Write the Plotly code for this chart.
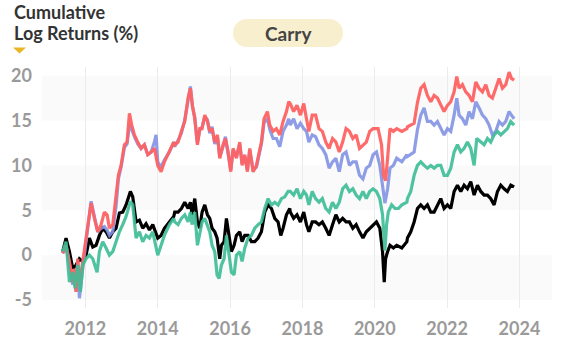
import plotly.graph_objects as go

# ---------------- data (decimal years, cumulative log returns %) ----------------
red_x = [2011.373, 2011.465, 2011.558, 2011.650, 2011.696, 2011.742, 2011.788, 2011.834, 2011.926, 2012.018,
         2012.111, 2012.157, 2012.249, 2012.341, 2012.433, 2012.525, 2012.599, 2012.664, 2012.756, 2012.848,
         2012.912, 2012.986, 2013.078, 2013.152, 2013.217, 2013.281, 2013.355, 2013.447, 2013.539, 2013.631,
         2013.724, 2013.816, 2013.908, 2014.000, 2014.092, 2014.184, 2014.323, 2014.442,
         2014.470, 2014.562, 2014.654, 2014.747, 2014.839, 2014.903, 2014.959, 2015.023, 2015.097, 2015.161,
         2015.226, 2015.300, 2015.373, 2015.438, 2015.502, 2015.576, 2015.650, 2015.714, 2015.806, 2015.871,
         2015.945, 2016.018, 2016.083, 2016.175, 2016.267, 2016.332, 2016.406, 2016.479, 2016.544, 2016.636,
         2016.728, 2016.793, 2016.866, 2016.940, 2017.032, 2017.097, 2017.189, 2017.281, 2017.373, 2017.465,
         2017.558, 2017.622,
         2017.664, 2017.757, 2017.850, 2017.944, 2018.037, 2018.112, 2018.178, 2018.271, 2018.364, 2018.458,
         2018.551, 2018.645, 2018.738, 2018.832, 2018.925, 2019.019, 2019.112, 2019.206, 2019.299, 2019.393,
         2019.486, 2019.579, 2019.673, 2019.766, 2019.860, 2019.953, 2020.093, 2020.187, 2020.243, 2020.299,
         2020.355, 2020.421, 2020.514, 2020.607, 2020.748, 2020.888,
         2020.903, 2020.995, 2021.088, 2021.180, 2021.272, 2021.364, 2021.456, 2021.548, 2021.641, 2021.733,
         2021.825, 2021.917, 2022.009, 2022.101, 2022.194, 2022.267, 2022.332, 2022.424, 2022.516, 2022.608,
         2022.700, 2022.793, 2022.885, 2022.977, 2023.069, 2023.161, 2023.253, 2023.346, 2023.438, 2023.530,
         2023.622, 2023.714, 2023.779, 2023.853]
red_y = [0.2, 1.1, -0.7, -3.0, -1.5, -4.1, -0.4, -3.3, -0.7, 1.9,
         4.8, 5.8, 4.1, 2.6, 3.4, 4.8, 4.5, 3.0, 3.4, 6.3,
         8.9, 10.0, 12.3, 12.6, 15.8, 14.5, 13.4, 12.6, 11.9, 12.3,
         11.2, 11.5, 11.9, 10.0, 9.3, 10.4, 11.5, 12.6,
         12.3, 12.6, 13.8, 14.9, 17.5, 18.6, 16.7, 15.2, 12.3, 14.1,
         14.1, 15.6, 14.9, 13.8, 14.1, 12.6, 13.4, 10.8, 12.3, 13.0,
         11.5, 9.3, 11.9, 10.8, 12.6, 10.0, 11.2, 9.3, 11.9, 9.3,
         10.0, 11.2, 12.6, 15.2, 16.0, 14.5, 13.8, 14.1, 13.4, 14.9,
         16.0, 17.1,
         16.9, 16.0, 16.7, 15.6, 16.9, 15.2, 13.8, 15.6, 15.6, 14.1,
         13.8, 12.6, 11.9, 13.0, 12.6, 11.5, 12.6, 14.1, 13.8, 13.0,
         13.4, 11.9, 12.3, 12.6, 13.8, 14.1, 14.1, 12.3, 8.9, 8.3,
         10.8, 14.1, 13.8, 14.1, 13.8, 14.1,
         14.3, 14.5, 14.7, 17.0, 18.6, 19.0, 17.8, 17.1, 17.8, 17.5,
         16.7, 16.0, 16.7, 17.1, 18.2, 19.9, 18.6, 19.0, 18.2, 17.8,
         17.1, 19.3, 18.6, 18.2, 19.0, 17.8, 17.5, 18.6, 19.7, 18.6,
         19.0, 20.4, 19.7, 19.5]

blue_x = [2011.373, 2011.465, 2011.558, 2011.650, 2011.696, 2011.742, 2011.788, 2011.834, 2011.926, 2012.018,
          2012.111, 2012.157, 2012.249, 2012.341, 2012.433, 2012.525, 2012.599, 2012.664, 2012.756, 2012.848,
          2012.912, 2012.986, 2013.078, 2013.152, 2013.217, 2013.281, 2013.355, 2013.447, 2013.539, 2013.631,
          2013.724, 2013.816, 2013.908, 2013.954, 2014.000, 2014.092, 2014.184, 2014.323, 2014.442,
          2014.470, 2014.562, 2014.654, 2014.747, 2014.839, 2014.903, 2014.959, 2015.023, 2015.097, 2015.161,
          2015.226, 2015.300, 2015.373, 2015.438, 2015.502, 2015.576, 2015.650, 2015.714, 2015.806, 2015.871,
          2015.945, 2016.018, 2016.083, 2016.175, 2016.267, 2016.332, 2016.406, 2016.479, 2016.544, 2016.636,
          2016.728, 2016.793, 2016.866, 2016.940, 2017.032, 2017.097, 2017.189, 2017.281, 2017.373, 2017.465,
          2017.558, 2017.622,
          2017.664, 2017.757, 2017.850, 2017.944, 2018.037, 2018.112, 2018.178, 2018.271, 2018.364, 2018.458,
          2018.551, 2018.645, 2018.738, 2018.832, 2018.925, 2019.019, 2019.112, 2019.206, 2019.299, 2019.393,
          2019.486, 2019.579, 2019.673, 2019.766, 2019.860, 2019.953, 2020.047, 2020.140, 2020.234, 2020.280,
          2020.355, 2020.421, 2020.514, 2020.607, 2020.748, 2020.888,
          2020.903, 2020.995, 2021.088, 2021.180, 2021.272, 2021.364, 2021.456, 2021.548, 2021.641, 2021.733,
          2021.825, 2021.917, 2022.009, 2022.101, 2022.194, 2022.267, 2022.332, 2022.424, 2022.516, 2022.608,
          2022.700, 2022.793, 2022.885, 2022.977, 2023.069, 2023.161, 2023.253, 2023.346, 2023.438, 2023.530,
          2023.622, 2023.714, 2023.779, 2023.853]
blue_y = [0.2, 1.1, -1.0, -3.3, -1.8, -4.0, -0.8, -4.8, -1.5, 1.5,
          4.8, 6.0, 4.3, 2.6, 3.0, 3.2, 2.8, 2.2, 2.6, 5.5,
          8.5, 9.8, 12.0, 12.4, 14.5, 14.0, 13.2, 12.4, 11.9, 12.3,
          11.2, 11.5, 12.6, 13.4, 10.4, 9.8, 10.6, 11.5, 12.6,
          12.1, 12.8, 13.6, 15.1, 17.3, 18.8, 16.5, 15.4, 12.5, 13.9,
          14.3, 15.4, 15.1, 13.6, 14.3, 12.4, 13.2, 11.0, 12.1, 13.2,
          11.3, 9.5, 11.7, 11.0, 12.4, 10.2, 11.0, 9.5, 11.7, 9.5,
          9.8, 11.0, 12.4, 14.8, 15.2, 14.0, 13.0, 13.0, 12.1, 13.8,
          14.5, 15.2,
          14.5, 15.2, 14.1, 14.7, 14.1, 13.8, 12.6, 13.4, 13.2, 12.3,
          11.9, 11.2, 9.7, 10.4, 10.8, 9.3, 11.2, 11.5, 10.0, 10.4,
          10.4, 8.9, 8.5, 9.7, 10.0, 11.2, 11.5, 10.0, 7.1, 5.8,
          7.4, 9.7, 10.0, 10.8, 10.4, 11.2,
          11.0, 11.2, 11.5, 14.0, 15.6, 16.4, 14.9, 14.9, 14.5, 14.9,
          14.1, 13.4, 14.1, 13.8, 15.6, 17.5, 15.6, 15.2, 14.5, 16.0,
          15.2, 17.1, 16.4, 15.6, 15.2, 14.5, 13.4, 13.8, 14.9, 14.5,
          14.9, 16.0, 15.6, 15.2]

green_x = [2011.373, 2011.465, 2011.558, 2011.650, 2011.714, 2011.788, 2011.862, 2011.926, 2012.018, 2012.111,
           2012.203, 2012.323, 2012.387, 2012.479, 2012.571, 2012.664, 2012.756, 2012.848, 2012.940, 2013.032,
           2013.124, 2013.244, 2013.309, 2013.401, 2013.493, 2013.585, 2013.677, 2013.770, 2013.862, 2014.000,
           2014.092, 2014.184, 2014.323, 2014.442,
           2014.470, 2014.562, 2014.654, 2014.747, 2014.839, 2014.903, 2014.949, 2015.023, 2015.097, 2015.161,
           2015.226, 2015.300, 2015.373, 2015.438, 2015.502, 2015.576, 2015.641, 2015.696, 2015.760, 2015.834,
           2015.899, 2015.963, 2016.037, 2016.111, 2016.175, 2016.267, 2016.332, 2016.406, 2016.498, 2016.590,
           2016.682, 2016.774, 2016.866, 2016.959, 2017.051, 2017.143, 2017.235, 2017.327, 2017.419, 2017.512,
           2017.604,
           2017.664, 2017.757, 2017.850, 2017.944, 2018.037, 2018.112, 2018.178, 2018.271, 2018.364, 2018.458,
           2018.551, 2018.645, 2018.738, 2018.832, 2018.925, 2019.019, 2019.112, 2019.206, 2019.299, 2019.393,
           2019.486, 2019.579, 2019.673, 2019.766, 2019.860, 2019.953, 2020.047, 2020.140, 2020.215, 2020.280,
           2020.327, 2020.374, 2020.467, 2020.561, 2020.654, 2020.748, 2020.888,
           2020.903, 2020.995, 2021.088, 2021.180, 2021.272, 2021.364, 2021.456, 2021.548, 2021.641, 2021.733,
           2021.825, 2021.917, 2022.009, 2022.101, 2022.194, 2022.286, 2022.378, 2022.470, 2022.562, 2022.654,
           2022.747, 2022.820, 2022.931, 2023.023, 2023.115, 2023.207, 2023.300, 2023.392, 2023.484, 2023.576,
           2023.668, 2023.760, 2023.853]
green_y = [0.4, 1.5, -3.0, -1.9, -3.7, -1.1, -4.1, -1.1, -0.4, 0.0,
           -0.4, -1.9, 0.4, 1.5, 0.8, 0.0, 0.4, 1.5, 2.6, 3.4,
           4.3, 6.0, 5.6, 1.9, 2.6, 1.5, 2.2, 1.9, 2.6, 0.0,
           1.1, 2.2, 3.4, 4.1,
           3.7, 3.4, 4.1, 4.5, 3.7, 4.8, 3.4, 4.8, 1.1, 2.2,
           3.7, 4.1, 3.4, 2.6, 1.1, 0.4, -2.2, -2.6, -1.1, -0.4,
           2.2, 0.4, -1.9, -2.2, 0.0, 0.4, -0.7, 0.8, 1.9, 2.2,
           3.0, 3.4, 3.7, 5.2, 6.3, 5.6, 5.9, 5.6, 6.3, 6.5,
           7.1,
           7.1, 6.7, 7.4, 6.3, 7.1, 6.7, 5.6, 7.1, 6.3, 5.9,
           6.3, 5.2, 4.8, 5.9, 5.2, 5.9, 7.4, 7.8, 7.1, 7.4,
           6.7, 6.3, 7.1, 6.3, 7.1, 7.4, 7.1, 6.3, 4.5, 0.5,
           3.4, 4.8, 5.6, 5.2, 5.2, 5.6, 5.9,
           6.3, 7.1, 8.9, 10.0, 10.4, 10.0, 9.7, 10.0, 9.7, 10.0,
           10.0, 8.9, 8.9, 9.7, 11.5, 12.3, 11.5, 11.9, 12.6, 11.9,
           10.0, 13.0, 12.6, 12.3, 13.0, 12.6, 13.4, 13.8, 13.4, 13.8,
           14.1, 14.9, 14.5]

black_x = [2011.373, 2011.465, 2011.558, 2011.650, 2011.742, 2011.834, 2011.926, 2012.018, 2012.111, 2012.203,
           2012.295, 2012.387, 2012.479, 2012.571, 2012.664, 2012.756, 2012.848, 2012.940, 2013.032, 2013.124,
           2013.244, 2013.309, 2013.401, 2013.493, 2013.585, 2013.677, 2013.770, 2013.862, 2014.000, 2014.092,
           2014.184, 2014.323, 2014.442,
           2014.470, 2014.562, 2014.654, 2014.747, 2014.839, 2014.903, 2014.949, 2015.023, 2015.097, 2015.161,
           2015.226, 2015.300, 2015.373, 2015.438, 2015.502, 2015.576, 2015.641, 2015.714, 2015.760, 2015.834,
           2015.899, 2015.963, 2016.037, 2016.111, 2016.175, 2016.267, 2016.332, 2016.406, 2016.498, 2016.590,
           2016.682, 2016.774, 2016.866, 2016.959, 2017.051, 2017.143, 2017.235, 2017.327, 2017.401, 2017.465,
           2017.558, 2017.650,
           2017.664, 2017.757, 2017.850, 2017.944, 2018.037, 2018.112, 2018.178, 2018.271, 2018.364, 2018.458,
           2018.551, 2018.645, 2018.738, 2018.832, 2018.925, 2019.019, 2019.112, 2019.206, 2019.299, 2019.393,
           2019.486, 2019.579, 2019.673, 2019.766, 2019.860, 2019.953, 2020.047, 2020.140, 2020.215, 2020.262,
           2020.299, 2020.355, 2020.421, 2020.514, 2020.607, 2020.748, 2020.888,
           2020.903, 2020.995, 2021.088, 2021.180, 2021.272, 2021.364, 2021.456, 2021.548, 2021.641, 2021.733,
           2021.825, 2021.917, 2022.009, 2022.101, 2022.194, 2022.286, 2022.378, 2022.470, 2022.562, 2022.654,
           2022.747, 2022.839, 2022.931, 2023.023, 2023.115, 2023.207, 2023.300, 2023.392, 2023.484, 2023.576,
           2023.668, 2023.760, 2023.853]
black_y = [0.4, 1.9, 0.4, -1.5, -1.1, -0.4, -0.7, 0.0, 1.9, 0.9,
           1.1, 2.2, 3.0, 2.6, 1.9, 2.6, 3.0, 4.7, 4.8, 5.6,
           7.1, 6.5, 3.7, 3.9, 3.0, 3.5, 2.8, 3.4, 1.9, 2.2,
           3.0, 3.7, 4.3,
           4.8, 4.8, 5.2, 5.9, 5.2, 5.9, 4.5, 6.3, 3.7, 3.0,
           4.8, 5.6, 4.5, 4.1, 3.0, 2.6, 1.9, -0.4, 1.1, 1.5,
           4.1, 2.2, 0.4, 1.1, 2.2, 2.6, 1.5, 2.2, 2.2, 1.5,
           1.5, 1.9, 2.6, 4.8, 5.6, 5.2, 4.1, 3.7, 2.2, 3.0,
           4.5, 5.2,
           4.8, 4.1, 4.5, 3.7, 4.8, 3.4, 2.6, 3.7, 3.7, 3.4,
           3.7, 3.0, 2.2, 3.4, 4.5, 3.7, 4.1, 3.7, 3.7, 3.0,
           3.4, 2.6, 1.9, 2.6, 3.0, 3.4, 3.7, 3.0, 0.4, -3.0,
           -0.4, 0.4, 1.1, 0.8, 1.1, 0.8, 1.5,
           1.9, 2.6, 3.7, 5.2, 5.6, 5.2, 5.6, 4.8, 4.8, 5.6,
           6.3, 5.2, 5.6, 5.2, 7.1, 7.8, 7.1, 7.8, 7.4, 8.2,
           6.7, 7.8, 7.1, 6.7, 6.7, 6.3, 5.6, 7.1, 7.8, 7.4,
           7.1, 7.8, 7.6]

year_ticks = [2012, 2014, 2016, 2018, 2020, 2022, 2024]
value_ticks = [-5, 0, 5, 10, 15, 20]
bands = [(-5, 0), (5, 10), (15, 20)]

# ---------------- layout geometry ----------------
W, H = 575, 344
ML, MR, MT, MB = 42, 23, 67, 36
PW, PH = W - ML - MR, H - MT - MB


def px(x):
    return (x - ML) / PW


def py(y):
    return (H - MB - y) / PH


FONT = "Lato, 'Open Sans', sans-serif"

fig = go.Figure()
series = [
    (black_x, black_y, "#000000", 1.0),
    (blue_x, blue_y, "#8293e4", 0.9),
    (red_x, red_y, "#ff6363", 0.95),
    (green_x, green_y, "#3dbd96", 0.9),
]
for xs, ys, col, op in series:
    fig.add_trace(go.Scatter(x=xs, y=ys, mode="lines", opacity=op,
                             line=dict(color=col, width=3.2), hoverinfo="skip",
                             showlegend=False))

shapes = []
for lo, hi in bands:
    shapes.append(dict(type="rect", xref="paper", yref="y", x0=0, x1=1, y0=lo, y1=hi,
                       fillcolor="#fafafa", line=dict(width=0), layer="below"))
# pill behind "Carry"
pill_col = "#f8efcf"
shapes.append(dict(type="circle", xref="paper", yref="paper", x0=px(233), x1=px(261),
                   y0=py(47), y1=py(19), fillcolor=pill_col, line=dict(width=0)))
shapes.append(dict(type="circle", xref="paper", yref="paper", x0=px(315), x1=px(343),
                   y0=py(47), y1=py(19), fillcolor=pill_col, line=dict(width=0)))
shapes.append(dict(type="rect", xref="paper", yref="paper", x0=px(247), x1=px(329),
                   y0=py(47), y1=py(19), fillcolor=pill_col, line=dict(width=0)))
# small yellow triangle under the title
shapes.append(dict(type="path", xref="paper", yref="paper",
                   path=f"M {px(13)},{py(47.5)} L {px(26)},{py(47.5)} L {px(19.5)},{py(53.5)} Z",
                   fillcolor="#ebb424", line=dict(width=0)))

annotations = [
    dict(text="Cumulative", x=px(12), y=py(12), xref="paper", yref="paper",
         xanchor="left", yanchor="middle", showarrow=False,
         font=dict(family=FONT, size=18, color="#333333", weight="bold")),
    dict(text="Log Returns (%)", x=px(12), y=py(33), xref="paper", yref="paper",
         xanchor="left", yanchor="middle", showarrow=False,
         font=dict(family=FONT, size=18, color="#333333", weight="bold")),
    dict(text="Carry", x=px(288), y=py(33), xref="paper", yref="paper",
         xanchor="center", yanchor="middle", showarrow=False,
         font=dict(family=FONT, size=19, color="#444444", weight="bold")),
]

fig.update_layout(
    width=W, height=H,
    margin=dict(l=ML, r=MR, t=MT, b=MB),
    paper_bgcolor="white", plot_bgcolor="white",
    shapes=shapes, annotations=annotations,
    xaxis=dict(range=[2010.80, 2024.90], tickvals=year_ticks,
               ticktext=[str(t) for t in year_ticks],
               showgrid=True, gridcolor="#ebebeb", gridwidth=1,
               zeroline=False, showline=False, ticks="", automargin=False,
               ticklabelstandoff=8,
               tickfont=dict(family=FONT, size=18, color="#9a9a9a", weight="bold")),
    yaxis=dict(range=[-5.89, 20.97], tickvals=value_ticks,
               ticktext=[str(t) for t in value_ticks],
               showgrid=False, zeroline=False, showline=False, ticks="", automargin=False,
               ticklabelstandoff=9,
               tickfont=dict(family=FONT, size=18, color="#9a9a9a", weight="bold")),
)

fig.write_html("out.html")
